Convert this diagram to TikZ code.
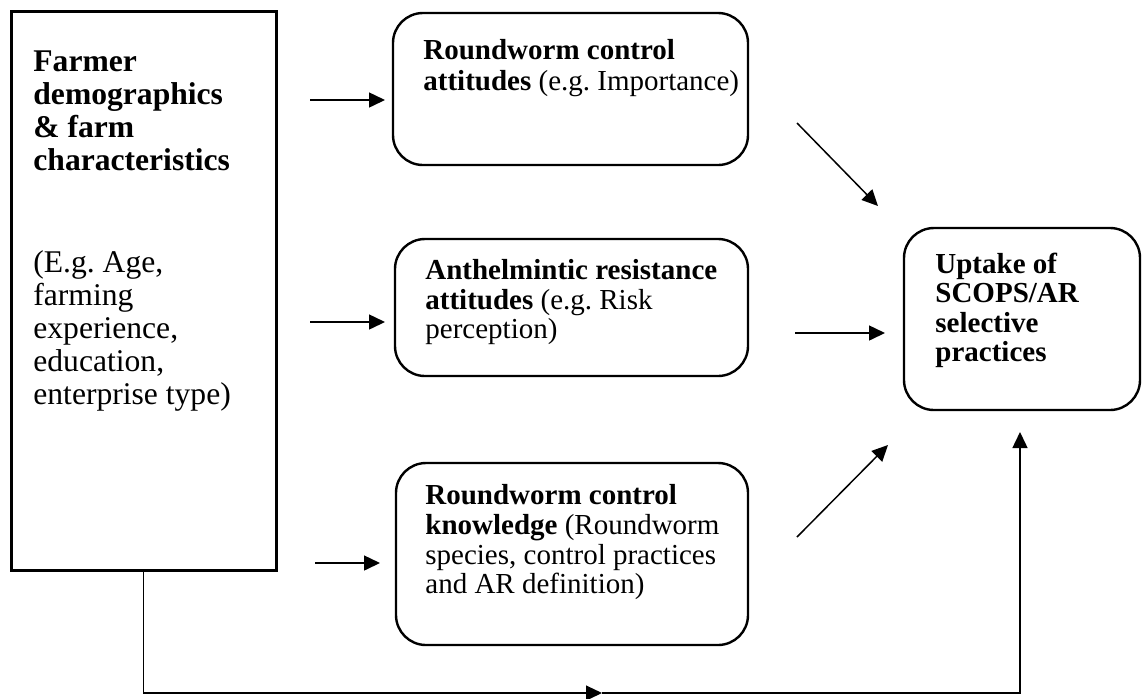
\documentclass[tikz,border=0pt]{standalone}
\usepackage{fontspec}
\setmainfont{Liberation Serif}
\usetikzlibrary{arrows.meta}
\frenchspacing
\begin{document}
\begin{tikzpicture}[x=0.5pt,y=-0.5pt,
  sqbox/.style={draw, line width=1.5pt, inner sep=0pt},
  rbox/.style={draw, line width=1.2pt, rounded corners=15pt, inner sep=0pt},
  ln/.style={anchor=base west, inner sep=0pt, font=\fontsize{14.5}{16}\selectfont},
  lnbig/.style={anchor=base west, inner sep=0pt, font=\fontsize{15.8}{17}\selectfont},
  arr/.style={line width=0.75pt, -{Triangle[length=8pt,width=7.5pt]}},
  thinarr/.style={line width=0.6pt, -{Triangle[length=8pt,width=7.5pt]}}]
\useasboundingbox (0,0) rectangle (1146,698);
% boxes
\node[sqbox, minimum width=132.5pt, minimum height=279.5pt] (farm) at (143.5,290.5) {};
\node[rbox, minimum width=177.5pt, minimum height=76pt] (att) at (570.5,89) {};
\node[rbox, minimum width=176.5pt, minimum height=68.5pt] (ar) at (571.5,307.5) {};
\node[rbox, minimum width=176pt, minimum height=91pt] (know) at (572,554) {};
\node[rbox, minimum width=118pt, minimum height=91pt] (up) at (1022,319) {};
% left text
\node[lnbig] (f1) at (33,71) {\textbf{Farmer}};
\node[lnbig] (f2) at (33,104) {\textbf{demographics}};
\node[lnbig] (f3) at (33,137) {\textbf{\& farm}};
\node[lnbig] (f4) at (33,170) {\textbf{characteristics}};
\node[lnbig] (f5) at (33,272) {(E.g. Age,};
\node[lnbig] (f6) at (33,305) {farming};
\node[lnbig] (f7) at (33,338) {experience,};
\node[lnbig] (f8) at (33,371) {education,};
\node[lnbig] (f9) at (33,404) {enterprise type)};
% top box text
\node[ln] (t1) at (423,59) {\textbf{Roundworm control}};
\node[ln] (t2) at (423,90) {\textbf{attitudes} (e.g. Importance)};
% middle box text
\node[ln] (m1) at (425,279) {\textbf{Anthelmintic resistance}};
\node[ln] (m2) at (425,309) {\textbf{attitudes} (e.g. Risk};
\node[ln] (m3) at (425,338) {perception)};
% bottom box text
\node[ln] (k1) at (425,504) {\textbf{Roundworm control}};
\node[ln] (k2) at (425,534) {\textbf{knowledge} (Roundworm};
\node[ln] (k3) at (425,564) {species, control practices};
\node[ln] (k4) at (425,593) {and AR definition)};
% uptake text
\node[ln] (u1) at (935,273) {\textbf{Uptake of}};
\node[ln] (u2) at (935,302) {\textbf{SCOPS/AR}};
\node[ln] (u3) at (935,332) {\textbf{selective}};
\node[ln] (u4) at (935,361) {\textbf{practices}};
% arrow end points
\coordinate (a1s) at (310,100); \coordinate (a1e) at (385,100);
\coordinate (a2s) at (310,322); \coordinate (a2e) at (385,322);
\coordinate (a3s) at (315,563); \coordinate (a3e) at (380,563);
\coordinate (a4s) at (795,333); \coordinate (a4e) at (885,333);
\coordinate (a5s) at (797,123); \coordinate (a5e) at (878,206);
\coordinate (a6s) at (797,537); \coordinate (a6e) at (888,445);
\coordinate (mid) at (602,693);
\coordinate (upin) at (1020,432);
% arrows
\draw[arr] (a1s) -- (a1e);
\draw[arr] (a2s) -- (a2e);
\draw[arr] (a3s) -- (a3e);
\draw[arr] (a4s) -- (a4e);
\draw[arr] (a5s) -- (a5e);
\draw[arr] (a6s) -- (a6e);
\draw[thinarr] (farm.south) |- (mid);
\draw[arr] (mid) -| (upin);
\end{tikzpicture}
\end{document}
